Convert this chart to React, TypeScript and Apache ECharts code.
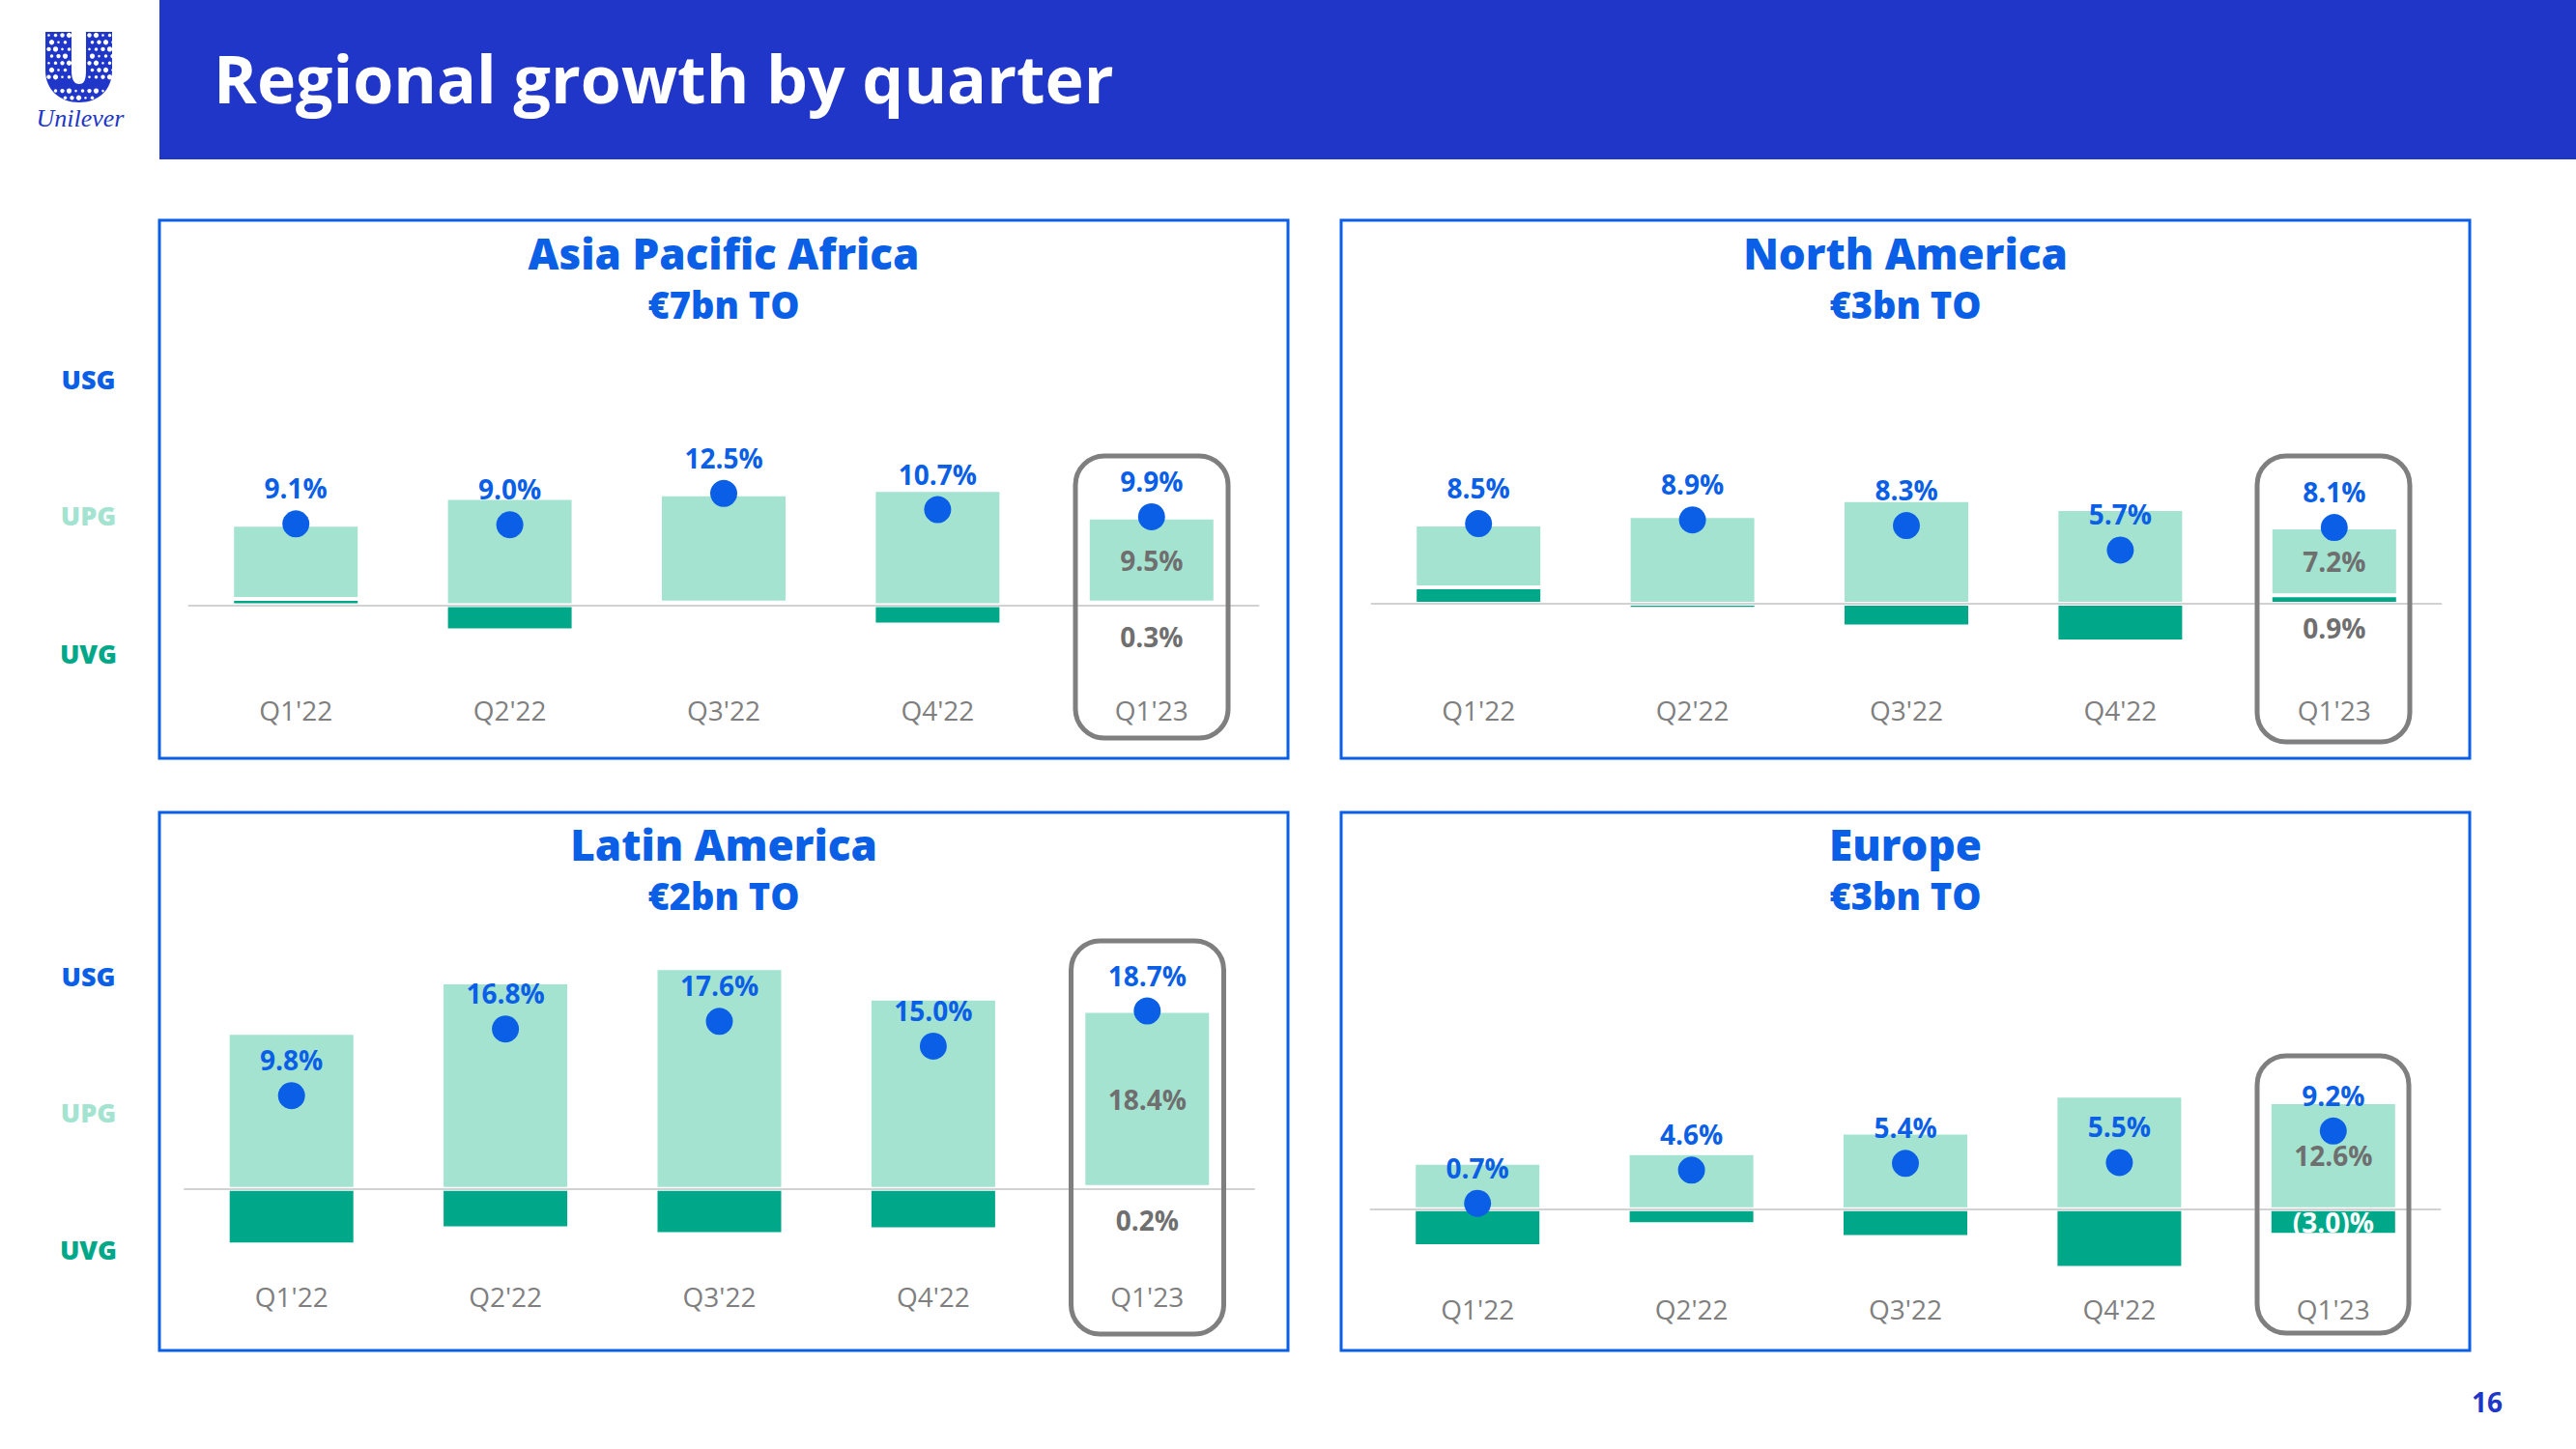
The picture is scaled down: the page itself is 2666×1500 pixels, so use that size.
import React, { useEffect, useRef } from "react";
import * as echarts from "echarts";

const categories = ["Q1'22", "Q2'22", "Q3'22", "Q4'22", "Q1'23"];

const apaUsg = [9.1, 9.0, 12.5, 10.7, 9.9];
const apaUpg = [8.3, 12.0, 12.1, 12.9, 9.5];
const apaUvg = [0.7, -2.8, 0.3, -2.15, 0.3];
const apaNotes = ["9.5%", "0.3%"];

const naUsg = [8.5, 8.9, 8.3, 5.7, 8.1];
const naUpg = [6.65, 9.3, 11.0, 10.05, 7.2];
const naUvg = [1.75, -0.55, -2.4, -4.0, 0.9];
const naNotes = ["7.2%", "0.9%"];

const latamUsg = [9.8, 16.8, 17.6, 15.0, 18.7];
const latamUpg = [16.4, 21.7, 23.2, 20.0, 18.5];
const latamUvg = [-5.85, -4.15, -4.75, -4.25, 0.2];
const latamNotes = ["18.4%", "0.2%"];

const europeUsg = [0.7, 4.6, 5.4, 5.5, 9.2];
const europeUpg = [5.45, 6.6, 9.0, 13.35, 12.6];
const europeUvg = [-4.35, -1.75, -3.25, -6.9, -3.0];
const europeNotes = ["12.6%", "(3.0)%"];

const headline = "Regional growth by quarter";
const pageNumber = "16";

const BLUE = "#0A5FE6";
const NAVY = "#2036C8";
const LIGHT = "#A5E3D1";
const DARK = "#00A88A";
const GREY = "#6F6F6F";
const AXIS_GREY = "#7F7F7F";
const FONT = "'Open Sans'";

const panels = [
  { name: "Asia Pacific Africa", sub: "€7bn TO", usg: apaUsg, upg: apaUpg, uvg: apaUvg, notes: apaNotes,
    box: [165, 228, 1168, 557], left: 195.5, zero: 626.5, scale: 9.25, labelY: 735.2, noteGap: 18,
    frame: [1113, 472, 158, 292], titleY: 265 },
  { name: "North America", sub: "€3bn TO", usg: naUsg, upg: naUpg, uvg: naUvg, notes: naNotes,
    box: [1388, 228, 1168, 557], left: 1419.5, zero: 625, scale: 9.75, labelY: 735.3, noteGap: 11,
    frame: [2336, 472, 158, 296], titleY: 265 },
  { name: "Latin America", sub: "€2bn TO", usg: latamUsg, upg: latamUpg, uvg: latamUvg, notes: latamNotes,
    box: [165, 841, 1168, 557], left: 191, zero: 1230.7, scale: 9.85, labelY: 1342.1, noteGap: 18,
    frame: [1108.5, 974, 158, 407], titleY: 877 },
  { name: "Europe", sub: "€3bn TO", usg: europeUsg, upg: europeUpg, uvg: europeUvg, notes: europeNotes,
    box: [1388, 841, 1168, 557], left: 1418.5, zero: 1251.8, scale: 8.8, labelY: 1355, noteGap: 10,
    frame: [2336, 1093, 157, 287], titleY: 877 },
];

const sideLabels = [
  { text: "USG", color: BLUE, ys: [392.5, 1010.5] },
  { text: "UPG", color: LIGHT, ys: [533.5, 1151.5] },
  { text: "UVG", color: DARK, ys: [676, 1293.5] },
];

const STEP = 221.4;
const AXIS_MIN = -10;
const AXIS_MAX = 30;
const TICK_FONT = 28;

function logo(): any[] {
  echarts.graphic.registerShape(
    "unileverU",
    echarts.graphic.extendPath(
      "M0 0H27V40C27 50 30 54 35 54C40 54 42 50 42 40V0H69V40C69 60 55 73 35 73C15 73 0 60 0 40Z",
      {}
    )
  );
  const specks: any[] = [];
  for (let r = 0; r < 10; r++) {
    for (let c = 0; c < 10; c++) {
      const x = 47 + 3.5 + c * 7 + (r % 2) * 3;
      const y = 33 + 3.5 + r * 7.2;
      const inArm = x < 47 + 26 || x > 47 + 43;
      const inBase = y > 33 + 57 && Math.hypot(x - 82, y - 73) < 33;
      if ((y < 33 + 50 && inArm) || inBase) {
        specks.push({
          type: "circle",
          z: 101,
          shape: { cx: x, cy: y, r: 1.3 + ((r * 3 + c * 5) % 4) * 0.45 },
          style: { fill: "#ffffff" },
        });
      }
    }
  }
  return [
    { type: "unileverU", x: 47, y: 33, z: 100, style: { fill: NAVY } },
    ...specks,
    {
      type: "text",
      x: 83,
      y: 122,
      z: 100,
      style: {
        text: "Unilever",
        fill: NAVY,
        font: "italic 26px 'Liberation Serif'",
        textAlign: "center",
        textVerticalAlign: "middle",
      },
    },
  ];
}

function buildOption() {
  const grid: any[] = [];
  const xAxis: any[] = [];
  const yAxis: any[] = [];
  const series: any[] = [];
  const title: any[] = [
    {
      text: headline,
      left: 216,
      top: 33,
      textStyle: { color: "#ffffff", fontFamily: FONT, fontWeight: "bold", fontSize: 68, lineHeight: 84 },
    },
  ];
  const graphic: any[] = [
    { type: "rect", z: -1, shape: { x: 165, y: 0, width: 2501, height: 165 }, style: { fill: NAVY } },
    ...logo(),
    {
      type: "text",
      x: 2574,
      y: 1451,
      style: {
        text: pageNumber,
        fill: NAVY,
        font: `bold 28px ${FONT}`,
        textAlign: "center",
        textVerticalAlign: "middle",
      },
    },
  ];

  sideLabels.forEach((s) =>
    s.ys.forEach((y) =>
      graphic.push({
        type: "text",
        x: 91.5,
        y,
        style: {
          text: s.text,
          fill: s.color,
          font: `800 27px ${FONT}`,
          textAlign: "center",
          textVerticalAlign: "middle",
        },
      })
    )
  );

  panels.forEach((p, i) => {
    const [bx, by, bw, bh] = p.box;
    const [fx, fy, fw, fh] = p.frame;
    graphic.push({
      type: "rect",
      z: 0,
      shape: { x: bx, y: by, width: bw, height: bh },
      style: { fill: "none", stroke: BLUE, lineWidth: 3 },
    });
    graphic.push({
      type: "rect",
      z: 50,
      shape: { x: fx, y: fy, width: fw, height: fh, r: 30 },
      style: { fill: "none", stroke: AXIS_GREY, lineWidth: 5 },
    });
    title.push({
      text: p.name,
      subtext: p.sub,
      left: bx + bw / 2 - 5,
      top: p.titleY - 38,
      textAlign: "center",
      itemGap: 1,
      textStyle: { color: BLUE, fontFamily: FONT, fontWeight: 800, fontSize: 44, lineHeight: 60 },
      subtextStyle: { color: BLUE, fontFamily: FONT, fontWeight: 800, fontSize: 38, lineHeight: 44 },
    });
    grid.push({
      left: p.left,
      width: STEP * 5,
      top: p.zero - AXIS_MAX * p.scale,
      height: (AXIS_MAX - AXIS_MIN) * p.scale,
      containLabel: false,
    });
    const gridBottom = p.zero - AXIS_MIN * p.scale;
    xAxis.push({
      type: "category",
      gridIndex: i,
      data: categories,
      z: 3,
      axisTick: { show: false },
      axisLine: { show: true, onZero: true, lineStyle: { color: "#D2D2D2", width: 2 } },
      axisLabel: {
        margin: p.labelY - TICK_FONT / 2 - gridBottom,
        color: AXIS_GREY,
        fontFamily: FONT,
        fontSize: TICK_FONT,
        interval: 0,
      },
    });
    yAxis.push({
      type: "value",
      gridIndex: i,
      min: AXIS_MIN,
      max: AXIS_MAX,
      show: false,
      splitLine: { show: false },
    });
    const last = categories.length - 1;
    const barStyle = (v: number, color: string) => ({
      color,
      borderColor: "#ffffff",
      borderWidth: Math.abs(v) < 0.35 ? 3 : 2,
    });
    const noteLabel = { show: true, fontFamily: FONT, fontWeight: "bold", fontSize: 28 };
    const stack = `growth-${i}`;
    series.push({
      type: "bar",
      name: `${p.name} UVG`,
      xAxisIndex: i,
      yAxisIndex: i,
      stack,
      barWidth: 132,
      z: 2,
      data: p.uvg.map((v, k) => ({
        value: v,
        itemStyle: barStyle(v, DARK),
        label:
          k === last
            ? v < 0
              ? { ...noteLabel, color: "#ffffff", position: "inside", formatter: p.notes[1] }
              : { ...noteLabel, color: GREY, position: "bottom", distance: p.noteGap, formatter: p.notes[1] }
            : { show: false },
      })),
    });
    series.push({
      type: "bar",
      name: `${p.name} UPG`,
      xAxisIndex: i,
      yAxisIndex: i,
      stack,
      barWidth: 132,
      z: 2,
      data: p.upg.map((v, k) => ({
        value: v,
        itemStyle: barStyle(v, LIGHT),
        label:
          k === last
            ? { ...noteLabel, color: GREY, position: "inside", formatter: p.notes[0] }
            : { show: false },
      })),
    });
    series.push({
      type: "scatter",
      name: `${p.name} USG`,
      xAxisIndex: i,
      yAxisIndex: i,
      z: 4,
      symbol: "circle",
      symbolSize: 28,
      itemStyle: { color: BLUE, opacity: 1 },
      data: p.usg,
      label: {
        show: true,
        position: "top",
        distance: 9,
        color: BLUE,
        fontFamily: FONT,
        fontWeight: "bold",
        fontSize: 28,
        formatter: (d: any) => `${Number(d.value).toFixed(1)}%`,
      },
    });
  });

  return { animation: false, backgroundColor: "#ffffff", title, grid, xAxis, yAxis, series, graphic };
}

export default function App() {
  const ref = useRef<HTMLDivElement>(null);
  useEffect(() => {
    if (!ref.current) return;
    const chart = echarts.init(ref.current, undefined, { renderer: "svg" });
    chart.setOption(buildOption() as any);
    return () => chart.dispose();
  }, []);
  return (
    <div
      ref={ref}
      style={{ position: "fixed", left: 0, top: 0, width: 2666, height: 1500, background: "#fff" }}
    />
  );
}
